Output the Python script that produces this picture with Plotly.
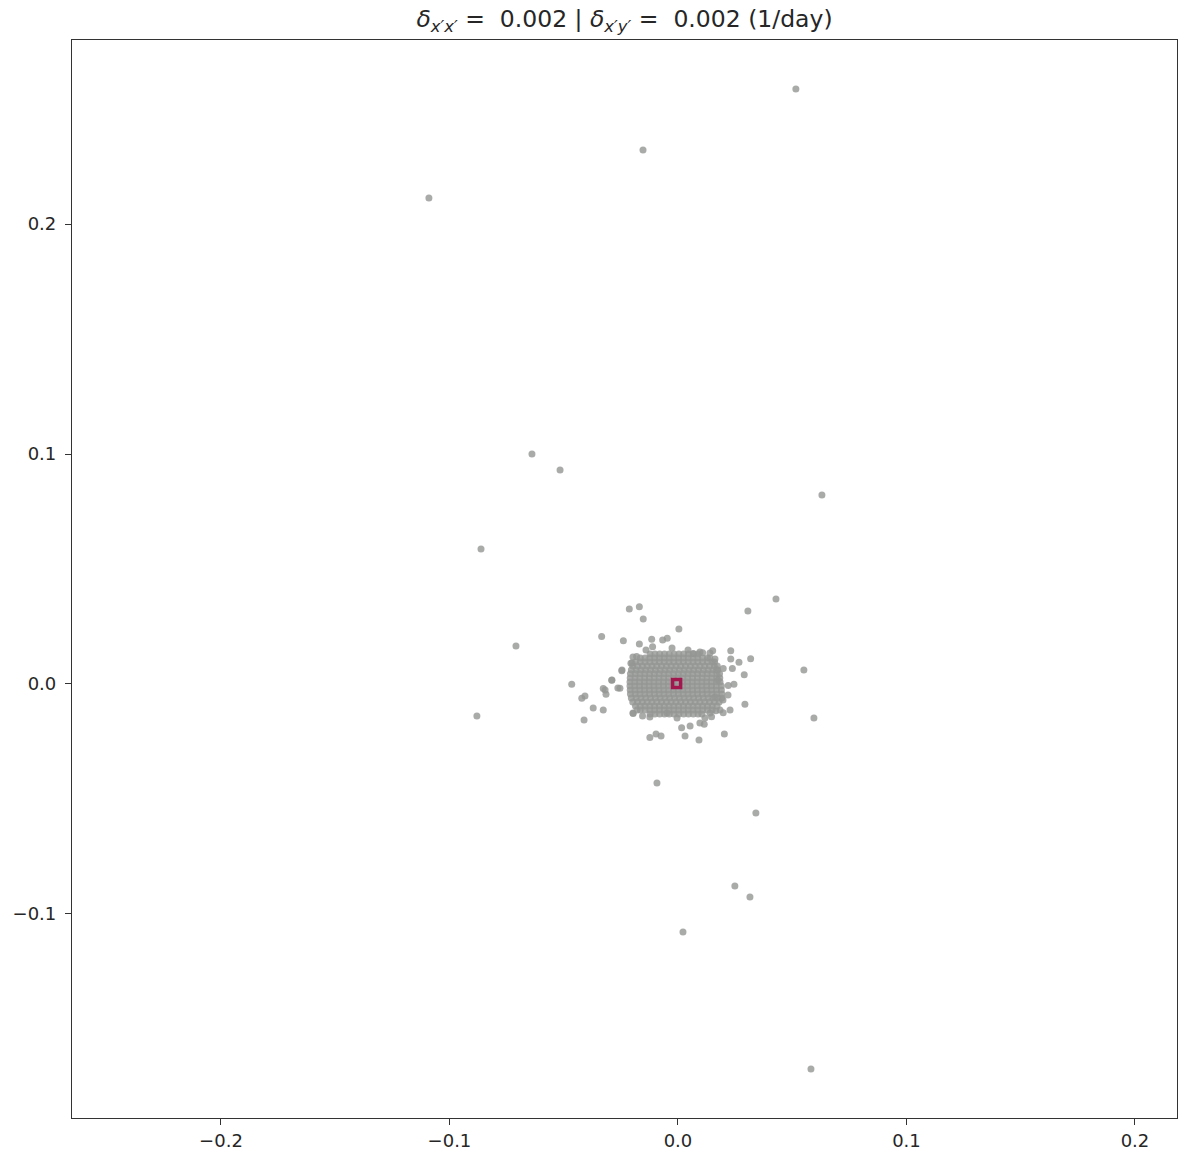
import plotly.graph_objects as go

# Isolated outlier points (x, y)
OUT_X = [0.0516, -0.0153, -0.109, -0.0639, -0.0516, 0.063, -0.0862, -0.0709, -0.088,
         0.0429, 0.0306, 0.0551, 0.0595, -0.0092, 0.0341, 0.0249, 0.0315, 0.0022, 0.0582]
OUT_Y = [0.2587, 0.2322, 0.2113, 0.1, 0.093, 0.0822, 0.0587, 0.0165, -0.0139,
         0.037, 0.0317, 0.0061, -0.0148, -0.043, -0.0561, -0.0878, -0.0926, -0.1078, -0.1674]

# Points scattered just around the dense cluster
NEAR_X = [-0.0213, -0.0169, -0.0152, 0.0004, -0.0334, -0.0239, -0.0169, -0.0115, -0.0067, -0.0047,
          0.0152, 0.0231, 0.0231, 0.0318, 0.0267, 0.0162, 0.0238, 0.0198, 0.029, 0.0245,
          0.022, 0.0293, 0.0228, 0.0198, -0.0246, -0.029, -0.0465, -0.0327, -0.0254, -0.0407,
          -0.0421, -0.0315, -0.0371, -0.0327, -0.0411, -0.0123, -0.0096, -0.0074, 0.0031, 0.0092,
          0.0203, 0.0016, 0.0053, 0.0115, -0.0196, -0.0155, 0.0147, 0.0184, -0.0206, -0.0181,
          -0.014, -0.0111, 0.0067, 0.0108, 0.0169,
          -0.0197, -0.0201, -0.0245, -0.0289, -0.0319, -0.0263, -0.0179, -0.0197, 0.0175, 0.0219,
          0.0197, 0.0162, 0.0166, 0.014, 0.0118, 0.0096, -0.0004, -0.0048, -0.0123, 0.014,
          0.0096, 0.0044, -0.0026]
NEAR_Y = [0.0326, 0.0336, 0.0283, 0.0239, 0.0206, 0.0188, 0.0174, 0.0194, 0.0191, 0.0199,
          0.0145, 0.0145, 0.0109, 0.011, 0.0094, 0.0109, 0.0067, 0.0067, 0.004, -0.0001,
          -0.0007, -0.0088, -0.0113, -0.0125, 0.0058, 0.0016, -0.0001, -0.002, -0.0019, -0.0052,
          -0.0062, -0.0045, -0.0104, -0.0113, -0.0157, -0.0233, -0.0217, -0.0226, -0.0226, -0.0243,
          -0.0217, -0.019, -0.0183, -0.0175, -0.0128, -0.0139, -0.0142, -0.0113, 0.009, 0.0119,
          0.0148, 0.0162, 0.0133, 0.0136, 0.0061,
          0.0117, 0.0091, 0.0061, 0.0017, -0.0026, -0.0017, -0.0113, -0.0126, 0.0017, -0.0048,
          -0.007, -0.0057, -0.0116, -0.0126, -0.0148, -0.017, -0.0148, -0.0126, -0.0143, 0.0135,
          0.0139, 0.0148, 0.0157]

# Dense core of the cluster, row by row (y of row, x values in row)
CORE_Y = [0.0130, 0.0113, 0.0096, 0.0078, 0.0061, 0.0044, 0.0026, 0.0009,
          -0.0009, -0.0026, -0.0044, -0.0061, -0.0078, -0.0096, -0.0113, -0.0130]
CORE_X_ROWS = [
    [-0.0122, -0.0101, -0.008, -0.0059, -0.0038, -0.0017, 0.0004, 0.0025, 0.0046, 0.0067, 0.0088],
    [-0.0165, -0.0144, -0.0123, -0.0102, -0.0081, -0.006, -0.0039, -0.0018, 0.0003, 0.0024, 0.0045,
     0.0066, 0.0087, 0.0108, 0.0129, 0.0139],
    [-0.0186, -0.0165, -0.0144, -0.0123, -0.0102, -0.0081, -0.006, -0.0039, -0.0018, 0.0003, 0.0024,
     0.0045, 0.0066, 0.0087, 0.0108, 0.0129, 0.015, 0.016],
    [-0.0198, -0.0177, -0.0156, -0.0135, -0.0114, -0.0093, -0.0072, -0.0051, -0.003, -0.0009, 0.0012,
     0.0033, 0.0054, 0.0075, 0.0096, 0.0117, 0.0138, 0.0159, 0.0172],
    [-0.0204, -0.0183, -0.0162, -0.0141, -0.012, -0.0099, -0.0078, -0.0057, -0.0036, -0.0015, 0.0006,
     0.0027, 0.0048, 0.0069, 0.009, 0.0111, 0.0132, 0.0153, 0.0174],
    [-0.0208, -0.0187, -0.0166, -0.0145, -0.0124, -0.0103, -0.0082, -0.0061, -0.004, -0.0019, 0.0002,
     0.0023, 0.0044, 0.0065, 0.0086, 0.0107, 0.0128, 0.0149, 0.017, 0.0182],
    [-0.0209, -0.0188, -0.0167, -0.0146, -0.0125, -0.0104, -0.0083, -0.0062, -0.0041, -0.002, 0.0001,
     0.0022, 0.0043, 0.0064, 0.0085, 0.0106, 0.0127, 0.0148, 0.0169, 0.0183],
    [-0.021, -0.0189, -0.0168, -0.0147, -0.0126, -0.0105, -0.0084, -0.0063, -0.0042, -0.0021, 0.0,
     0.0021, 0.0042, 0.0063, 0.0084, 0.0105, 0.0126, 0.0147, 0.0168, 0.0184],
    [-0.021, -0.0189, -0.0168, -0.0147, -0.0126, -0.0105, -0.0084, -0.0063, -0.0042, -0.0021, 0.0,
     0.0021, 0.0042, 0.0063, 0.0084, 0.0105, 0.0126, 0.0147, 0.0168, 0.019],
    [-0.0209, -0.0188, -0.0167, -0.0146, -0.0125, -0.0104, -0.0083, -0.0062, -0.0041, -0.002, 0.0001,
     0.0022, 0.0043, 0.0064, 0.0085, 0.0106, 0.0127, 0.0148, 0.0169, 0.019],
    [-0.0208, -0.0187, -0.0166, -0.0145, -0.0124, -0.0103, -0.0082, -0.0061, -0.004, -0.0019, 0.0002,
     0.0023, 0.0044, 0.0065, 0.0086, 0.0107, 0.0128, 0.0149, 0.017, 0.0192],
    [-0.0204, -0.0183, -0.0162, -0.0141, -0.012, -0.0099, -0.0078, -0.0057, -0.0036, -0.0015, 0.0006,
     0.0027, 0.0048, 0.0069, 0.009, 0.0111, 0.0132, 0.0153, 0.0174, 0.0192],
    [-0.0198, -0.0177, -0.0156, -0.0135, -0.0114, -0.0093, -0.0072, -0.0051, -0.003, -0.0009, 0.0012,
     0.0033, 0.0054, 0.0075, 0.0096, 0.0117, 0.0138, 0.0159, 0.018],
    [-0.0186, -0.0165, -0.0144, -0.0123, -0.0102, -0.0081, -0.006, -0.0039, -0.0018, 0.0003, 0.0024,
     0.0045, 0.0066, 0.0087, 0.0108, 0.0129, 0.015, 0.0171],
    [-0.0165, -0.0144, -0.0123, -0.0102, -0.0081, -0.006, -0.0039, -0.0018, 0.0003, 0.0024, 0.0045,
     0.0066, 0.0087, 0.0108, 0.0129, 0.015],
    [-0.0122, -0.0101, -0.008, -0.0059, -0.0038, -0.0017, 0.0004, 0.0025, 0.0046, 0.0067, 0.0088,
     0.0105],
]

# Centroid marker
CENTER_X = [-0.0006]
CENTER_Y = [0.0002]

X_TICKS = [-0.2, -0.1, 0.0, 0.1, 0.2]
X_TICK_TEXT = ["\u22120.2", "\u22120.1", "0.0", "0.1", "0.2"]
Y_TICKS = [-0.1, 0.0, 0.1, 0.2]
Y_TICK_TEXT = ["\u22120.1", "0.0", "0.1", "0.2"]

core_x, core_y = [], []
for yv, row in zip(CORE_Y, CORE_X_ROWS):
    core_x.extend(row)
    core_y.extend([yv] * len(row))

all_x = core_x + NEAR_X + OUT_X
all_y = core_y + NEAR_Y + OUT_Y

FONT = "DejaVu Sans"
TXT = "#262626"

fig = go.Figure()
fig.add_trace(go.Scatter(
    x=all_x, y=all_y, mode="markers",
    marker=dict(size=7, color="rgba(148,150,148,0.8)", line=dict(width=0)),
    showlegend=False, hoverinfo="skip",
))
fig.add_trace(go.Scatter(
    x=CENTER_X, y=CENTER_Y, mode="markers",
    marker=dict(symbol="square-open", size=8, color="#A3174F", line=dict(width=3.5, color="#A3174F")),
    showlegend=False,
))

axis_common = dict(
    showgrid=False, zeroline=False, showline=True, mirror=True,
    linecolor="#333333", linewidth=1.2, ticks="outside", ticklen=6,
    tickwidth=1.2, tickcolor="#333333",
    tickfont=dict(family=FONT, size=18, color=TXT),
)

fig.update_layout(
    width=1178, height=1158,
    margin=dict(l=72, r=1, t=40, b=40),
    paper_bgcolor="white", plot_bgcolor="white",
    font=dict(family=FONT, color=TXT),
    title=dict(
        text="<i>δ</i><sub><i>x′x′</i></sub> = &nbsp;0.002 | <i>δ</i><sub><i>x′y′</i></sub> = &nbsp;0.002 (1/day)",
        x=0.5, xref="paper", xanchor="center",
        y=1 - 19 / 1158, yref="container", yanchor="middle",
        font=dict(family=FONT, size=23.5, color=TXT),
    ),
    xaxis=dict(range=[-0.2652, 0.2184], tickvals=X_TICKS, ticktext=X_TICK_TEXT, **axis_common),
    yaxis=dict(range=[-0.1887, 0.28], tickvals=Y_TICKS, ticktext=Y_TICK_TEXT,
               ticklabelstandoff=5, **axis_common),
)

fig.write_html("out.html")
